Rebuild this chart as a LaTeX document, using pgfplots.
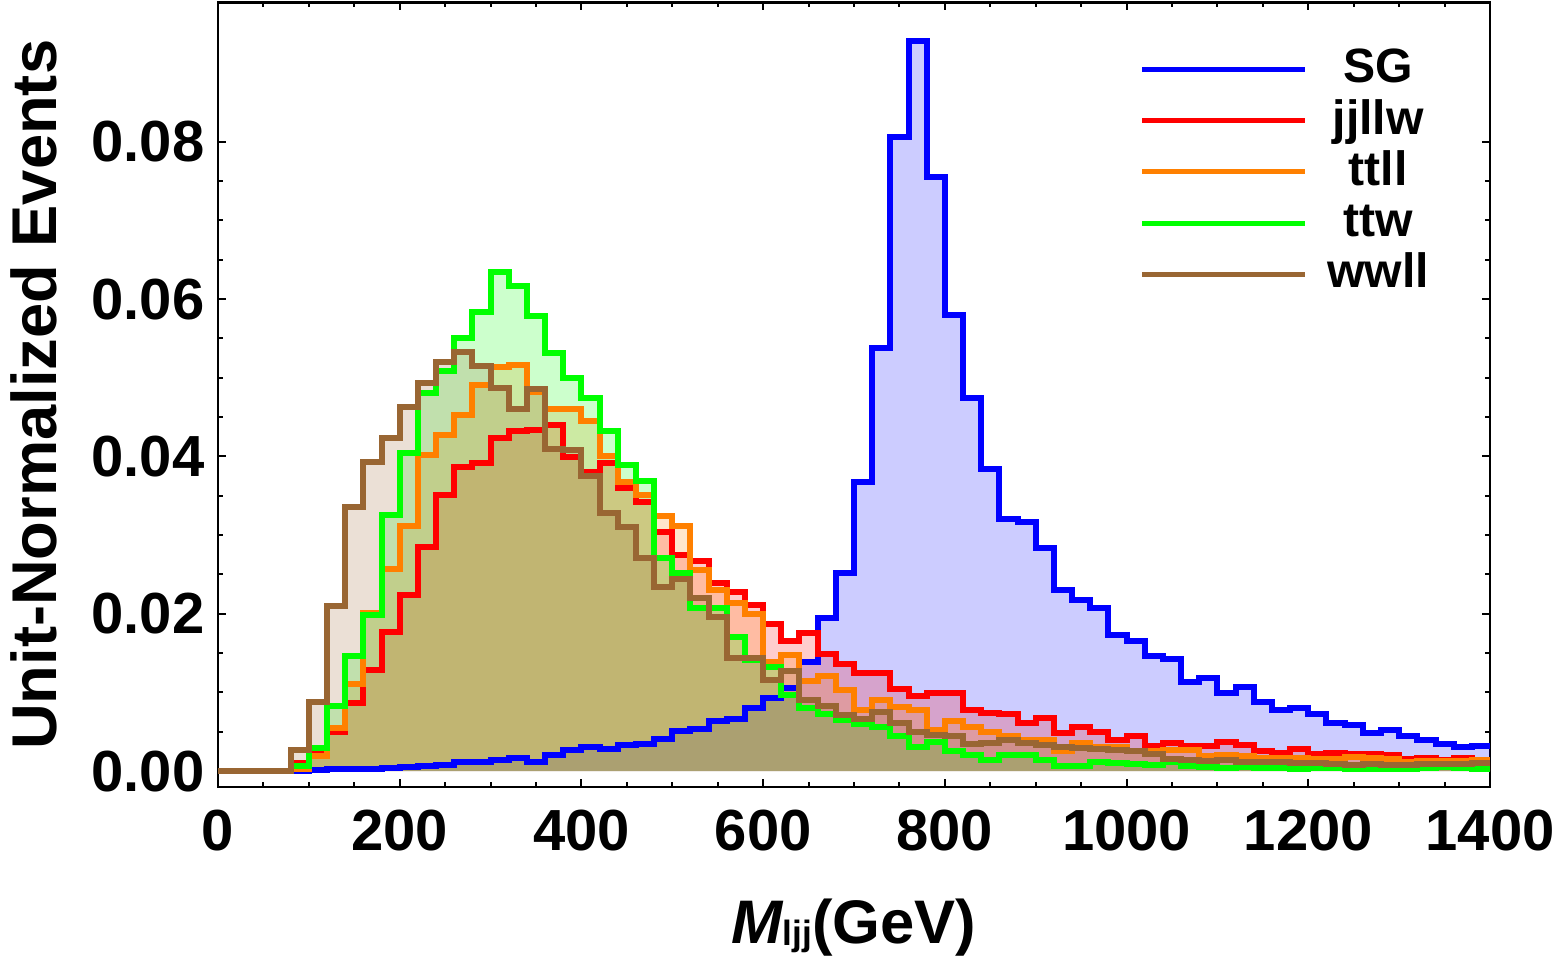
\documentclass[border=0pt]{standalone}
\usepackage{pgfplots}
\pgfplotsset{compat=1.18}
\usepackage{pgfplotstable}
\usepackage{fontspec}
\setmainfont{Liberation Sans}
\definecolor{cSG}{rgb}{0,0,1}
\definecolor{cJJ}{rgb}{1,0,0}
\definecolor{cTL}{rgb}{1,0.5,0}
\definecolor{cTW}{rgb}{0,1,0}
\definecolor{cWW}{rgb}{0.6,0.4,0.2}

\pgfplotstableread{
x sg jj tl tw ww
0 0 0 0 0 0
20 0 0 0 0 0
40 0 0 0 0 0
60 0 0 0 0 0
80 0 0.0010 0.0002 0.0006 0.0027
100 0.0001 0.0023 0.0019 0.0029 0.0088
120 0.0002 0.0050 0.0055 0.0083 0.0210
140 0.0002 0.0087 0.0111 0.0146 0.0336
160 0.0003 0.0129 0.0201 0.0198 0.0393
180 0.0004 0.0177 0.0257 0.0325 0.0424
200 0.0005 0.0224 0.0312 0.0404 0.0463
220 0.0006 0.0285 0.0402 0.0480 0.0493
240 0.0008 0.0351 0.0427 0.0508 0.0520
260 0.0011 0.0386 0.0453 0.0551 0.0533
280 0.0011 0.0392 0.0491 0.0583 0.0515
300 0.0014 0.0423 0.0513 0.0634 0.0487
320 0.0016 0.0432 0.0516 0.0617 0.0460
340 0.0012 0.0434 0.0482 0.0579 0.0486
360 0.0020 0.0440 0.0460 0.0531 0.0410
380 0.0027 0.0399 0.0460 0.0500 0.0408
400 0.0031 0.0380 0.0445 0.0474 0.0375
420 0.0028 0.0392 0.0401 0.0432 0.0328
440 0.0033 0.0360 0.0367 0.0389 0.0310
460 0.0034 0.0342 0.0351 0.0369 0.0271
480 0.0041 0.0304 0.0324 0.0271 0.0234
500 0.0051 0.0274 0.0311 0.0252 0.0244
520 0.0054 0.0267 0.0256 0.0207 0.0220
540 0.0063 0.0239 0.0230 0.0207 0.0196
560 0.0066 0.0228 0.0213 0.0171 0.0144
580 0.0080 0.0211 0.0199 0.0141 0.0144
600 0.0093 0.0187 0.0139 0.0132 0.0116
620 0.0105 0.0165 0.0147 0.0097 0.0127
640 0.0139 0.0175 0.0115 0.0080 0.0090
660 0.0194 0.0149 0.0121 0.0073 0.0083
680 0.0252 0.0136 0.0103 0.0065 0.0071
700 0.0368 0.0125 0.0077 0.0060 0.0066
720 0.0538 0.0125 0.0090 0.0056 0.0075
740 0.0806 0.0104 0.0082 0.0044 0.0061
760 0.0928 0.0095 0.0077 0.0031 0.0050
780 0.0755 0.0099 0.0052 0.0037 0.0046
800 0.0580 0.0099 0.0063 0.0025 0.0044
820 0.0474 0.0077 0.0056 0.0020 0.0035
840 0.0384 0.0074 0.0050 0.0014 0.0036
860 0.0320 0.0072 0.0044 0.0021 0.0039
880 0.0316 0.0061 0.0040 0.0021 0.0036
900 0.0283 0.0068 0.0039 0.0014 0.0033
920 0.0230 0.0048 0.0025 0.0007 0.0030
940 0.0217 0.0056 0.0036 0.0007 0.0029
960 0.0207 0.0049 0.0030 0.0011 0.0028
980 0.0173 0.0039 0.0030 0.0010 0.0027
1000 0.0165 0.0044 0.0025 0.0009 0.0025
1020 0.0146 0.0032 0.0025 0.0008 0.0022
1040 0.0143 0.0036 0.0027 0.0011 0.0015
1060 0.0113 0.0032 0.0027 0.0006 0.0014
1080 0.0118 0.0032 0.0019 0.0005 0.0013
1100 0.0099 0.0037 0.0021 0.0004 0.0014
1120 0.0107 0.0033 0.0019 0.0005 0.0011
1140 0.0088 0.0025 0.0017 0.0004 0.0012
1160 0.0078 0.0023 0.0017 0.0004 0.0011
1180 0.0080 0.0028 0.0017 0.0003 0.0010
1200 0.0073 0.0022 0.0015 0.0004 0.0010
1220 0.0061 0.0023 0.0015 0.0004 0.0009
1240 0.0058 0.0022 0.0018 0.0003 0.0008
1260 0.0048 0.0022 0.0016 0.0003 0.0009
1280 0.0052 0.0020 0.0015 0.0003 0.0008
1300 0.0044 0.0015 0.0012 0.0003 0.0008
1320 0.0039 0.0016 0.0013 0.0004 0.0009
1340 0.0034 0.0014 0.0013 0.0005 0.0009
1360 0.0030 0.0016 0.0013 0.0004 0.0009
1380 0.0032 0.0012 0.0014 0.0003 0.0010
1400 0.0032 0.0012 0.0014 0.0003 0.0010
}\histdata

\begin{document}
\begin{tikzpicture}
\begin{axis}[name=main, scale only axis, width=127.2mm, height=78.45mm,
 xmin=0, xmax=1400, ymin=-0.00203, ymax=0.0977,
 xtick={0,200,400,600,800,1000,1200,1400},
 xticklabels={0,200,400,600,800,1000,1200,1400},
 ytick={0,0.02,0.04,0.06,0.08},
 yticklabels={0.00,0.02,0.04,0.06,0.08},
 minor x tick num=3, minor y tick num=3,
 tick pos=both, tick align=inside,
 major tick length=0.8mm, minor tick length=0.5mm,
 every tick/.style={black, line width=0.2mm},
 axis line style={line width=0.27mm},
 ticklabel style={font=\bfseries\fontsize{16.5}{16.5}\selectfont},
 yticklabel style={inner sep=0pt, xshift=-1.3mm},
 xticklabel style={inner sep=0pt, yshift=-2.2mm},
 xlabel={{\itshape M}\raisebox{-0.2mm}{\fontsize{10}{10}\selectfont ljj}(GeV)},
 ylabel={Unit-Normalized Events},
 xlabel style={at={(axis description cs:0.5,-0.1989)}, anchor=base, inner sep=0pt, font=\bfseries\fontsize{17.5}{17.5}\selectfont},
 ylabel style={at={(axis description cs:-0.1266,0.5)}, anchor=base, inner sep=0pt, font=\bfseries\fontsize{18}{18}\selectfont},
 legend style={at={(axis description cs:0.7248,0.942)}, anchor=north west, draw=none, fill=none, inner sep=0pt, outer sep=0pt, row sep=0.62mm, column sep=0pt, font=\bfseries\fontsize{13.7}{13.7}\selectfont, nodes={inner sep=0pt, text height=3.5mm, text depth=1.0mm}},
 legend cell align=center,
 legend image code/.code={\draw[#1, line width=0.5mm] (0mm,0.1mm) -- (16.3mm,0.1mm); \path (18.2mm,0mm);},
]
\addplot[const plot, draw=none, fill=cSG, fill opacity=0.2, forget plot] table[x=x,y=sg]{\histdata} \closedcycle;
\addplot[const plot, draw=none, fill=cJJ, fill opacity=0.2, forget plot] table[x=x,y=jj]{\histdata} \closedcycle;
\addplot[const plot, draw=none, fill=cTL, fill opacity=0.2, forget plot] table[x=x,y=tl]{\histdata} \closedcycle;
\addplot[const plot, draw=none, fill=cTW, fill opacity=0.2, forget plot] table[x=x,y=tw]{\histdata} \closedcycle;
\addplot[const plot, draw=none, fill=cWW, fill opacity=0.2, forget plot] table[x=x,y=ww]{\histdata} \closedcycle;
\addplot[const plot, cSG, line width=0.6mm] table[x=x,y=sg]{\histdata};
\addlegendentry{SG}
\addplot[const plot, cJJ, line width=0.6mm] table[x=x,y=jj]{\histdata};
\addlegendentry{jjllw}
\addplot[const plot, cTL, line width=0.6mm] table[x=x,y=tl]{\histdata};
\addlegendentry{ttll}
\addplot[const plot, cTW, line width=0.6mm] table[x=x,y=tw]{\histdata};
\addlegendentry{ttw}
\addplot[const plot, cWW, line width=0.6mm] table[x=x,y=ww]{\histdata};
\addlegendentry{wwll}
\end{axis}
\pgfresetboundingbox
\path[use as bounding box] ([xshift=-21.8mm,yshift=-18.6mm]main.south west) rectangle ([xshift=7.3mm,yshift=0.25mm]main.north east);
\end{tikzpicture}
\end{document}
